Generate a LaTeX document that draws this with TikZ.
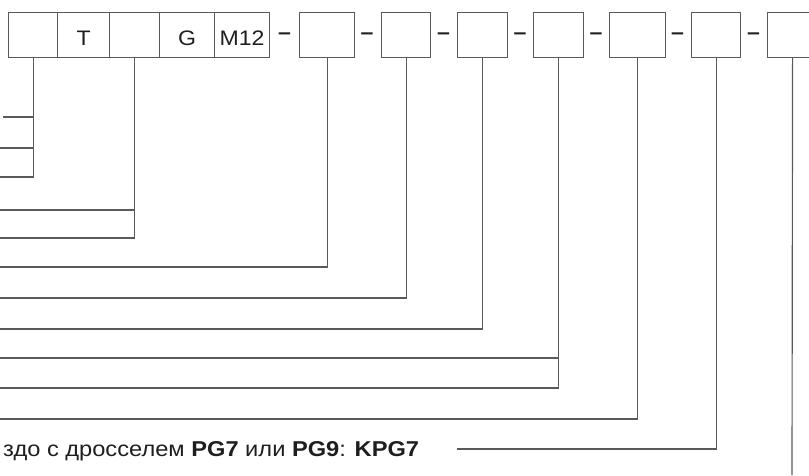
\documentclass[tikz,border=0pt]{standalone}
\usepackage{fontspec}
\setmainfont[FakeStretch=1.1]{Liberation Sans}
\definecolor{lc}{RGB}{90,90,90}
\definecolor{tc}{RGB}{30,30,30}
\begin{document}
\begin{tikzpicture}[x=1pt,y=-1pt,
  ln/.style={draw=lc, line width=1.15pt},
  bx/.style={draw=lc, line width=1.15pt, minimum height=45pt, inner sep=0pt, anchor=north west},
  lbl/.style={inner sep=0pt, anchor=base, text=tc, font=\fontsize{21}{21}\selectfont},
  dsh/.style={inner sep=0pt, text=tc, font=\fontsize{21}{21}\selectfont\bfseries}]
\useasboundingbox (0,0) rectangle (809,475);
% boxes
\node[bx, minimum width=49pt] (b1) at (8,12) {};
\node[bx, minimum width=52pt] (b2) at (57,12) {};
\node[bx, minimum width=50pt] (b3) at (109,12) {};
\node[bx, minimum width=55pt] (b4) at (159,12) {};
\node[bx, minimum width=55pt] (b5) at (214,12) {};
\node[bx, minimum width=55pt] (b6) at (299,12) {};
\node[bx, minimum width=49pt] (b7) at (381,12) {};
\node[bx, minimum width=50pt] (b8) at (457,12) {};
\node[bx, minimum width=50pt] (b9) at (533,12) {};
\node[bx, minimum width=56pt] (b10) at (609,12) {};
\node[bx, minimum width=49pt] (b11) at (691,12) {};
\node[bx, minimum width=50pt] (b12) at (767,12) {};
% box labels
\path (b2.south) ++(0,-12.5) node[lbl] (l2) {T};
\path (b4.south) ++(0,-12.5) node[lbl] (l4) {G};
\path (b5.south) ++(0,-12.5) node[lbl] (l5) {M12};
% dashes
\node[dsh] (d1) at (284.5,36) {–};
\node[dsh] (d2) at (367,36) {–};
\node[dsh] (d3) at (443.5,36) {–};
\node[dsh] (d4) at (520,36) {–};
\node[dsh] (d5) at (596,36) {–};
\node[dsh] (d6) at (677.5,36) {–};
\node[dsh] (d7) at (753.5,36) {–};
% free ends
\coordinate (e1a) at (3,117);
\coordinate (e1b) at (0,148);
\coordinate (e1c) at (0,177);
\coordinate (e3a) at (0,210);
\coordinate (e3b) at (0,238);
\coordinate (e6) at (0,267);
\coordinate (e7) at (0,298);
\coordinate (e8) at (0,329);
\coordinate (e9a) at (0,358);
\coordinate (e9b) at (0,388);
\coordinate (e10) at (0,419);
\coordinate (e11) at (457,449);
\coordinate (e12) at (792,475);
% connectors
\draw[ln] (b1.south) |- (e1c);
\draw[ln] (b1.south |- e1a) -- (e1a);
\draw[ln] (b1.south |- e1b) -- (e1b);
\draw[ln] (b3.south) |- (e3b);
\draw[ln] (b3.south |- e3a) -- (e3a);
\draw[ln] (b6.south) |- (e6);
\draw[ln] (b7.south) |- (e7);
\draw[ln] (b8.south) |- (e8);
\draw[ln] (b9.south) |- (e9b);
\draw[ln] (b9.south |- e9a) -- (e9a);
\draw[ln] (b10.south) |- (e10);
\draw[ln] (b11.south) |- (e11);
\draw[ln] (b12.south) -- (e12);
% text
\node[anchor=base west, inner sep=0pt, text=tc, font=\fontsize{21.5}{21.5}\selectfont] (t) at (3,456)
  {здо с дросселем \textbf{PG7} или \textbf{PG9}: \textbf{KPG7}};
\end{tikzpicture}
\end{document}
